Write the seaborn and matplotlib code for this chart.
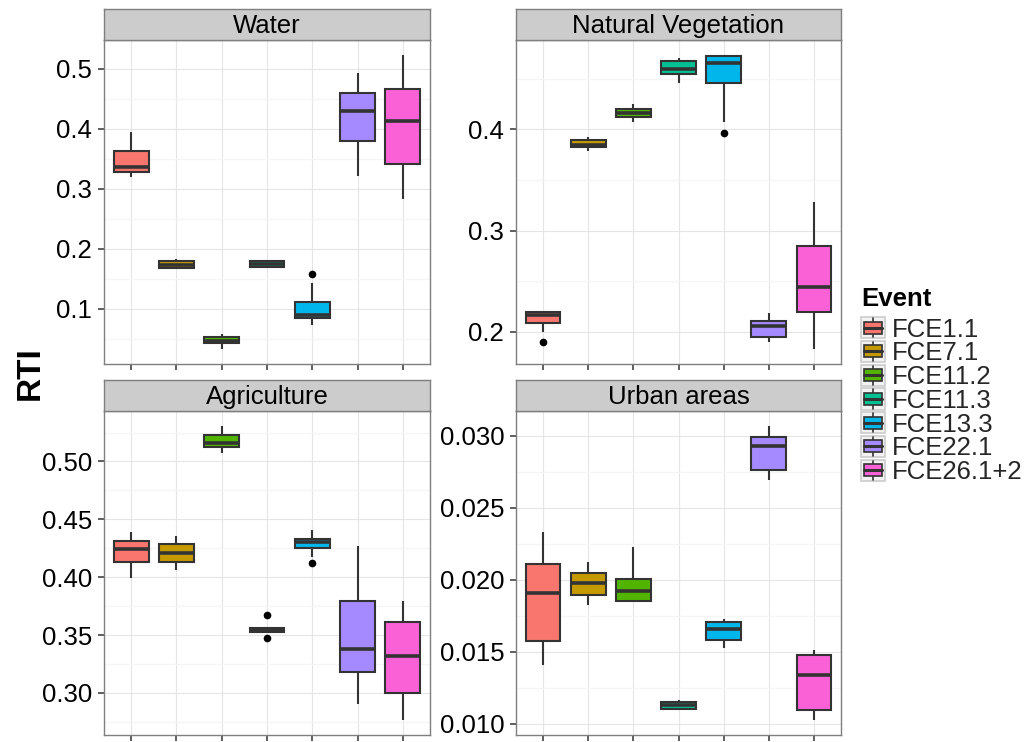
import matplotlib
matplotlib.use('Agg')
import matplotlib.pyplot as plt
from matplotlib.patches import Patch, Rectangle
from matplotlib.lines import Line2D
from matplotlib.legend_handler import HandlerBase
from matplotlib.ticker import MultipleLocator, FormatStrFormatter
import seaborn as sns
import pandas as pd

events = ['FCE1.1', 'FCE7.1', 'FCE11.2', 'FCE11.3', 'FCE13.3', 'FCE22.1', 'FCE26.1+2']
colors = ['#F8766D', '#C49A00', '#53B400', '#00C094', '#00B6EB', '#A58AFF', '#FB61D7']
panels = ['Water', 'Natural Vegetation', 'Agriculture', 'Urban areas']

# values (whisker ends, hinges, median, outliers)
water = [
    [0.320, 0.328, 0.336, 0.363, 0.394],
    [0.166, 0.168, 0.174, 0.180, 0.183],
    [0.033, 0.044, 0.046, 0.053, 0.058],
    [0.169, 0.170, 0.175, 0.180, 0.181],
    [0.074, 0.074, 0.085, 0.090, 0.090, 0.111, 0.111, 0.144, 0.159],
    [0.322, 0.380, 0.429, 0.459, 0.492],
    [0.283, 0.342, 0.412, 0.466, 0.523],
]
natural_veg = [
    [0.1900, 0.1997, 0.2082, 0.2082, 0.2166, 0.2198, 0.2198, 0.2210, 0.2210],
    [0.3790, 0.3821, 0.3843, 0.3896, 0.3920],
    [0.4072, 0.4117, 0.4160, 0.4202, 0.4248],
    [0.4453, 0.4551, 0.4597, 0.4672, 0.4705],
    [0.3964, 0.4075, 0.4457, 0.4457, 0.4656, 0.4724, 0.4724, 0.4737, 0.4737],
    [0.1899, 0.1944, 0.2052, 0.2104, 0.2186],
    [0.1827, 0.2196, 0.2440, 0.2852, 0.3282],
]
agriculture = [
    [0.3997, 0.4131, 0.4246, 0.4311, 0.4389],
    [0.4060, 0.4131, 0.4209, 0.4283, 0.4354],
    [0.5074, 0.5129, 0.5157, 0.5229, 0.5309],
    [0.3477, 0.3527, 0.3527, 0.3543, 0.3543, 0.3543, 0.3557, 0.3557, 0.3674],
    [0.4120, 0.4177, 0.4254, 0.4254, 0.4303, 0.4329, 0.4329, 0.4411, 0.4411],
    [0.2906, 0.3183, 0.3377, 0.3791, 0.4271],
    [0.2763, 0.2997, 0.3317, 0.3611, 0.3794],
]
urban = [
    [0.01410, 0.01573, 0.01905, 0.02107, 0.02333],
    [0.01826, 0.01896, 0.01974, 0.02045, 0.02123],
    [0.01854, 0.01854, 0.01925, 0.02008, 0.02230],
    [0.01093, 0.01104, 0.01127, 0.01152, 0.01166],
    [0.01527, 0.01578, 0.01661, 0.01707, 0.01725],
    [0.02692, 0.02761, 0.02933, 0.02993, 0.03071],
    [0.01023, 0.01097, 0.01336, 0.01477, 0.01509],
]
panel_data = [water, natural_veg, agriculture, urban]
tick_steps = [0.1, 0.1, 0.05, 0.005]
tick_fmts = ['%.1f', '%.1f', '%.2f', '%.3f']

rows = []
for name, groups in zip(panels, panel_data):
    for ev, vals in zip(events, groups):
        for v in vals:
            rows.append((name, ev, v))
df = pd.DataFrame(rows, columns=['LandUse', 'Event', 'RTI'])

sns.set_theme(style='white')
plt.rcParams['font.family'] = ['Liberation Sans', 'DejaVu Sans']

W, H = 1035, 742
fig = plt.figure(figsize=(W / 100, H / 100), dpi=100)

# panel boxes in pixels: (left, top, right, bottom)
boxes = [(104, 40, 430, 364), (516, 40, 841, 364),
         (104, 411, 430, 735), (516, 411, 841, 735)]
strip_h = 31
fs = 18.5


def frac(l, t, r, b):
    return [l / W, 1 - b / H, (r - l) / W, (b - t) / H]


for name, box, step, fmt in zip(panels, boxes, tick_steps, tick_fmts):
    ax = fig.add_axes(frac(*box))
    sub = df[df['LandUse'] == name]
    sns.boxplot(data=sub, x='Event', y='RTI', hue='Event', order=events,
                hue_order=events, palette=colors, saturation=1, width=0.77,
                linecolor='#333333', linewidth=1.5, showcaps=False,
                flierprops=dict(marker='o', markerfacecolor='black',
                                markeredgecolor='black', markersize=4.5),
                medianprops=dict(linewidth=2.6, color='#333333'),
                legend=False, ax=ax, zorder=3)
    lo, hi = sub['RTI'].min(), sub['RTI'].max()
    pad = 0.05 * (hi - lo)
    ax.set_ylim(lo - pad, hi + pad)
    ax.set_xlim(-0.6, 6.6)
    ax.yaxis.set_major_locator(MultipleLocator(step))
    ax.yaxis.set_minor_locator(MultipleLocator(step / 2))
    ax.yaxis.set_major_formatter(FormatStrFormatter(fmt))
    ax.set_xticks(range(len(events)))
    ax.set_xticklabels([])
    ax.set_xlabel('')
    ax.set_ylabel('')
    ax.grid(which='major', color='#E5E5E5', linewidth=0.8, zorder=0)
    ax.grid(which='minor', axis='y', color='#F5F5F5', linewidth=1.0, zorder=0)
    ax.set_axisbelow(True)
    ax.tick_params(axis='both', which='major', length=4.5, width=1.1,
                   color='#333333', labelsize=fs, labelcolor='black', pad=4)
    ax.tick_params(axis='y', which='minor', length=0)
    ax.tick_params(bottom=True, left=True)
    for sp in ax.spines.values():
        sp.set_color('#7F7F7F')
        sp.set_linewidth(1.0)
    ax.set_facecolor('white')

    l, t, r, b = box
    sax = fig.add_axes(frac(l, t - strip_h, r, t))
    sax.set_facecolor('#CCCCCC')
    sax.set_xticks([])
    sax.set_yticks([])
    for sp in sax.spines.values():
        sp.set_color('#7F7F7F')
        sp.set_linewidth(1.0)
    sax.text(0.5, 0.45, name, ha='center', va='center', fontsize=fs,
             color='black', transform=sax.transAxes)

fig.text(30 / W, 1 - 373 / H, 'RTI', rotation=90, ha='center', va='center',
         fontsize=24, fontweight='bold', color='black')


class BoxKey(HandlerBase):
    def create_artists(self, legend, orig_handle, xdescent, ydescent,
                       width, height, fontsize, trans):
        x0, y0 = -xdescent, -ydescent
        cx = x0 + width / 2
        bg = Rectangle((x0, y0), width, height, facecolor='#F2F2F2',
                       edgecolor='#CCCCCC', lw=1.2, transform=trans)
        whisk = Line2D([cx, cx], [y0 + height * 0.05, y0 + height * 0.95],
                       color='#333333', lw=1.2, transform=trans)
        body = Rectangle((x0 + width * 0.12, y0 + height * 0.22),
                         width * 0.76, height * 0.56,
                         facecolor=orig_handle.get_facecolor(),
                         edgecolor='#333333', lw=1.2, transform=trans)
        med = Line2D([x0 + width * 0.12, x0 + width * 0.88],
                     [y0 + height / 2] * 2, color='#333333', lw=2.2,
                     transform=trans)
        return [bg, whisk, body, med]


# legend title drawn separately so its gap to the keys matches ggplot
fig.text(861 / W, 1 - 299 / H, 'Event', ha='left', va='center',
         fontsize=fs, fontweight='bold', color='black')

handles = [Patch(facecolor=c) for c in colors]
leg = fig.legend(handles, events, handler_map={Patch: BoxKey()},
                 loc='upper left',
                 bbox_to_anchor=(861 / W, 1 - 317 / H), frameon=False,
                 fontsize=fs, handlelength=0.95, handleheight=0.9,
                 labelspacing=-0.03, handletextpad=0.25, borderpad=0,
                 borderaxespad=0)

fig.savefig('out.png', dpi=100)
